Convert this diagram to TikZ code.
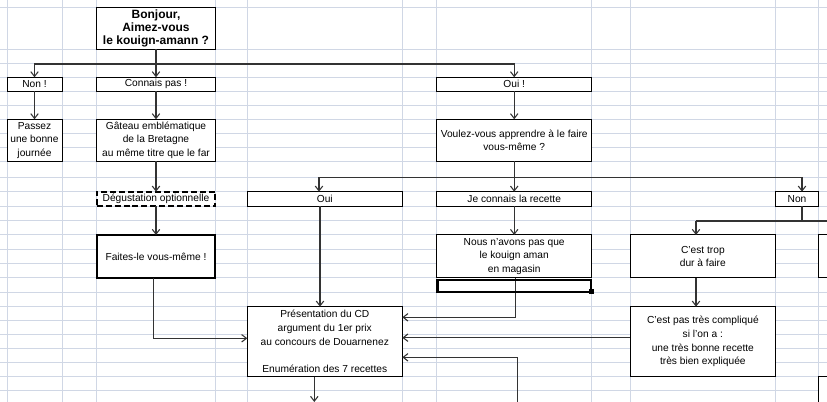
\documentclass[tikz,border=0pt]{standalone}
\usepackage{fontspec}
\setmainfont{Liberation Sans}
\usetikzlibrary{arrows.meta}
\definecolor{gridc}{RGB}{208,215,229}
\newcommand{\bxnode}[7]{%
  \pgfmathsetmacro\bxw{(#5-#3)*0.75}%
  \pgfmathsetmacro\bxh{(#6-#4)*0.75}%
  \node[#1,minimum width=\bxw pt,minimum height=\bxh pt] (#2) at ({(#3+#5)/2},{(#4+#6)/2}) {#7};}
\begin{document}
\begin{tikzpicture}[x=0.75pt,y=-0.75pt,
  gridline/.style={draw=gridc,line width=0.75pt},
  box/.style={draw=black,fill=white,line width=0.75pt,inner sep=0pt,outer sep=0pt,align=center,
    font=\fontsize{7.65pt}{10.3pt}\selectfont},
  thickbox/.style={box,line width=1.5pt},
  dashbox/.style={box,line width=1.6pt,dash pattern=on 4.5pt off 2.2pt},
  titlebox/.style={box,font=\fontsize{9pt}{10pt}\selectfont\bfseries},
  selbox/.style={draw=black,line width=1.65pt,inner sep=0pt,outer sep=0pt},
  handle/.style={fill=black,draw=none,inner sep=0pt,minimum size=3.6pt},
  conn/.style={draw=black!80,line width=0.8pt,-{Straight Barb[length=3.6pt,width=5.6pt]}},
  link/.style={draw=black!80,line width=0.8pt}
]
\useasboundingbox (0,0) rectangle (827,402);
\clip (0,0) rectangle (827,402);
\fill[white] (0,0) rectangle (827,402);
% spreadsheet grid
\foreach \gx in {7,62,96.7,215.3,247.3,402.3,436.7,591.7,630,775.7,818.3}
  \draw[gridline] (\gx,0) -- (\gx,402);
\foreach \gy in {7.3,49.3,63.3,77.3,91.3,105.3,119.3,133.3,147.3,161.3,177.3,191.7,206.3,220.7,235,249.3,263.7,278,292.3,306.7,320.7,334.7,348.7,362.7,376.7,390.7}
  \draw[gridline] (0,\gy) -- (827,\gy);

% boxes
\bxnode{titlebox}{bonjour}{96.7}{7.3}{215.3}{49.3}{Bonjour,\\Aimez-vous\\le kouign-amann ?}
\bxnode{box}{nonA}{7}{77.3}{62}{91.3}{Non !}
\bxnode{box}{connais}{96.7}{77.3}{215.3}{91.3}{Connais pas !}
\bxnode{box}{ouiA}{436.7}{77.3}{591.7}{91.3}{Oui !}
\bxnode{box}{passez}{7}{119.3}{62}{161.3}{Passez\\une bonne\\journée}
\bxnode{box}{gateau}{96.7}{119.3}{215.3}{161.3}{Gâteau emblématique\\de la Bretagne\\au même titre que le far}
\bxnode{box}{voulez}{436.7}{119.3}{591.7}{161.3}{Voulez-vous apprendre à le faire\\vous-même ?}
\bxnode{dashbox}{degust}{96.7}{191.7}{215.3}{206.3}{Dégustation optionnelle}
\bxnode{box}{ouiB}{247.3}{191.7}{402.3}{206.3}{Oui}
\bxnode{box}{je}{436.7}{191.7}{591.7}{206.3}{Je connais la recette}
\bxnode{box}{nonB}{775.7}{191.7}{818.3}{206.3}{Non}
\bxnode{thickbox}{faites}{96.7}{235}{215.3}{278}{Faites-le vous-même !}
\bxnode{box}{nous}{436.7}{235}{591.7}{278}{Nous n'avons pas que\\le kouign aman\\en magasin}
\bxnode{box}{trop}{630}{235}{775.7}{278}{C'est trop\\dur à faire}
\bxnode{box}{r1}{818.3}{235}{900}{278}{}
\bxnode{box}{pres}{247.3}{306.7}{402.3}{376.7}{Présentation du CD\\argument du 1er prix\\au concours de Douarnenez\\\mbox{}\\Enumération des 7 recettes}
\bxnode{box}{pas}{630}{306.7}{775.7}{376.7}{C'est pas très compliqué\\si l'on a :\\une très bonne recette\\très bien expliquée}
\bxnode{box}{r2}{818.3}{376.7}{900}{450}{}

% junction coordinates
\coordinate (j1) at (bonjour.south |- 0,64);
\coordinate (j2) at (voulez.south |- 0,177.3);
\coordinate (j3) at (802,221);
\coordinate (j3l) at (696,221);
\coordinate (j3r) at (830,221);
\coordinate (b1) at (314.3,402);
\coordinate (b2) at (517.5,404);

% connectors
\draw[conn] (bonjour.south) -- (connais.north);
\draw[conn] (j1) -| (nonA.north);
\draw[conn] (j1) -| (ouiA.north);
\draw[conn] (nonA.south) -- (passez.north);
\draw[conn] (connais.south) -- (gateau.north);
\draw[conn] (ouiA.south) -- (voulez.north);
\draw[conn] (gateau.south) -- (degust.north);
\draw[conn] (degust.south) -- (faites.north);
\draw[conn] (voulez.south) -- (je.north);
\draw[conn] (j2) -| (319,0 |- ouiB.north);
\draw[conn] (j2) -| (802,0 |- nonB.north);
\draw[conn] (je.south) -- (nous.north);
\draw[link] (802,0 |- nonB.south) -- (j3);
\draw[link] (j3l) -- (j3r);
\draw[conn] (j3l) -- (696,0 |- trop.north);
\draw[conn] (696,0 |- trop.south) -- (696,0 |- pas.north);
\draw[conn] (320,0 |- ouiB.south) -- (320,0 |- pres.north);
\draw[conn] (153.7,0 |- faites.south) |- (pres.west |- 0,338.3);
\draw[conn] (515.7,0 |- nous.south) |- (pres.east |- 0,317.3);
\draw[conn] (pas.west |- 0,337.7) -- (pres.east |- 0,337.7);
\draw[conn] (b2) |- (pres.east |- 0,357.3);
\draw[conn] (314.3,0 |- pres.south) -- (b1);

% spreadsheet selection cell
\bxnode{selbox}{sel}{437.5}{280}{591.2}{291.8}{}
\node[handle] (selh) at (sel.south east) {};
\end{tikzpicture}
\end{document}
